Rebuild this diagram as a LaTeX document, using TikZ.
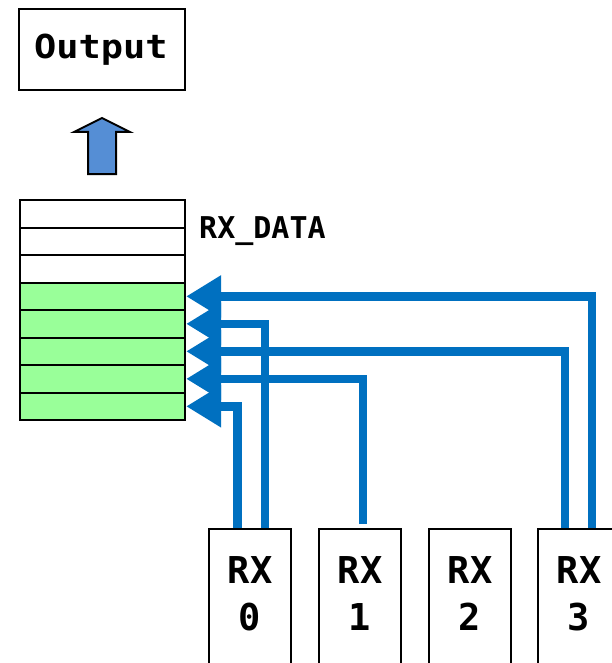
\documentclass[tikz,border=0pt]{standalone}
\usepackage{fontspec}
\setmonofont{DejaVu Sans Mono}
\usetikzlibrary{arrows.meta,calc}
\definecolor{wireblue}{HTML}{0070C0}
\definecolor{reggreen}{HTML}{99FF99}
\definecolor{arrowblue}{HTML}{558ED5}
\begin{document}
\begin{tikzpicture}[x=1pt,y=-1pt,
  box/.style={draw=black, line width=2.2pt, inner sep=0pt},
  reg/.style={box, minimum width=165pt, minimum height=27.5pt, anchor=north west},
  rxbox/.style={box, minimum width=82pt, minimum height=170pt, anchor=north},
  wire/.style={draw=wireblue, line width=8.5pt, -{Triangle[length=35pt,width=40pt]}},
  lbl/.style={font=\ttfamily\bfseries, inner sep=0pt, anchor=base}]
\clip (0,0) rectangle (612,663);

% output block
\node[box, minimum width=166pt, minimum height=81pt] (out) at (102,49.5) {};
\node[lbl, xscale=1.12, font=\ttfamily\bfseries\fontsize{33}{33}\selectfont] (outtxt) at (101,58.3) {Output};

% transfer arrow
\draw[line width=2pt, fill=arrowblue, line join=miter]
  (88,174) -- (88,132) -- (74,132) -- (102,118) -- (130,132) -- (116,132) -- (116,174) -- cycle;

% RX_DATA register stack
\node[reg] (r1) at (19,199) {};
\node[reg] (r2) at (19,226.5) {};
\node[reg] (r3) at (19,254) {};
\node[reg, fill=reggreen] (r4) at (19,281.5) {};
\node[reg, fill=reggreen] (r5) at (19,309) {};
\node[reg, fill=reggreen] (r6) at (19,336.5) {};
\node[reg, fill=reggreen] (r7) at (19,364) {};
\node[reg, fill=reggreen] (r8) at (19,391.5) {};
\node[lbl, anchor=base west, font=\ttfamily\bfseries\fontsize{30}{30}\selectfont] (rxdata) at (199,238) {RX\_DATA};

% receivers
\node[rxbox] (rx0) at (250,528) {};
\node[rxbox] (rx1) at (360,528) {};
\node[rxbox] (rx2) at (470,528) {};
\node[rxbox] (rx3) at (579,528) {};
\foreach \n/\x in {0/250,1/360,2/470,3/579}{
  \node[lbl, font=\ttfamily\bfseries\fontsize{37}{37}\selectfont] (rxa\n) at (\x,583) {RX};
  \node[lbl, font=\ttfamily\bfseries\fontsize{37}{37}\selectfont] (rxb\n) at (\x,630) {\n};
}

% data paths into the stack
\draw[wire] ($(rx3.north)+(13,0)$) |- (r4.east);
\draw[wire] ($(rx0.north)+(15,0)$) |- (r5.east);
\draw[wire] ($(rx3.north)+(-14,0)$) |- (r6.east);
\draw[wire] ($(rx1.north)+(3,-4)$) |- (r7.east);
\draw[wire] ($(rx0.north)+(-12.5,0)$) |- (r8.east);
\end{tikzpicture}
\end{document}
